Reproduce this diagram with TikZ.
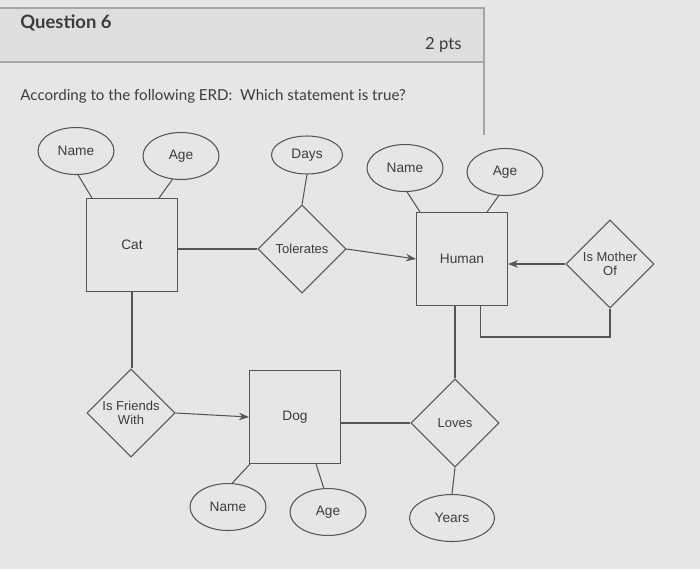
\documentclass[tikz,border=0pt]{standalone}
\usepackage{fontspec}
\setmainfont{Lato}
\newfontfamily\erdfont{Liberation Sans}
\usepackage{tikz}
\usetikzlibrary{shapes, arrows.meta, positioning, calc}
\definecolor{screengray}{RGB}{230, 230, 230}
\definecolor{bandgray}{RGB}{222, 222, 222}
\definecolor{inkgray}{RGB}{85, 85, 85}
\definecolor{textgray}{RGB}{60, 60, 60}

\begin{document}
\begin{tikzpicture}[x=0.02cm, y=-0.02cm, >=Stealth, line width=0.6pt,
    every node/.style={text=textgray},
    entity/.style={draw=inkgray, rectangle, minimum width=1.82cm, minimum height=1.86cm, font=\erdfont\fontsize{7.8}{9}\selectfont},
    attr/.style={draw=inkgray, ellipse, inner sep=0pt, minimum width=1.52cm, minimum height=0.94cm, font=\erdfont\fontsize{7.8}{9}\selectfont},
    rel/.style={draw=inkgray, diamond, inner sep=0pt, minimum width=1.76cm, minimum height=1.76cm, align=center, font=\erdfont\fontsize{7.4}{8}\selectfont},
    link/.style={draw=inkgray}]
    % screen and question header
    \fill[screengray] (0,0) rectangle (700,569);
    \useasboundingbox (0,0) rectangle (700,569);
    \fill[bandgray] (0,8) rectangle (484,62);
    \draw[gray!70] (0,8) -- (484,8) -- (484,135);
    \draw[gray!70] (0,62) -- (484,62);
    \node[anchor=west, font=\bfseries\fontsize{10.5}{13}\selectfont] (qtitle) at (14,23) {Question 6};
    \node[anchor=east, font=\fontsize{9.5}{11}\selectfont] (qpts) at (468,45) {2 pts};
    \node[anchor=west, font=\fontsize{8.6}{10}\selectfont] (qtext) at (14,96) {According to the following ERD:\ \ Which statement is true?};

    % entities
    \node[entity] (cat) at (132,245) {Cat};
    \node[entity] (hum) at (462,259) {Human};
    \node[entity] (dog) at (295,417) {Dog};

    % attributes
    \node[attr] (catname) at (76,151) {Name};
    \node[attr] (catage) at (181,156) {Age};
    \node[attr, minimum width=1.42cm, minimum height=0.76cm] (days) at (307,155) {Days};
    \node[attr] (humname) at (405,168) {Name};
    \node[attr] (humage) at (505,172) {Age};
    \node[attr] (dogname) at (228,507) {Name};
    \node[attr] (dogage) at (328,512) {Age};
    \node[attr, minimum width=1.7cm] (years) at (452,518) {Years};

    % relationships
    \node[rel] (tol) at (302,249) {Tolerates};
    \node[rel] (mom) at (610,264) {Is Mother\\Of};
    \node[rel] (friends) at (131,413) {Is Friends\\With};
    \node[rel] (loves) at (455,423) {Loves};
    \coordinate (loop) at (607,337);

    % attribute links
    \draw[link] (catname.-85) -- ([xshift=0.12cm]cat.north west);
    \draw[link] (catage.-110) -- ([xshift=-0.38cm]cat.north east);
    \draw[link] (days.south) -- (tol.north);
    \draw[link] (humname.-85) -- ([xshift=0.08cm]hum.north west);
    \draw[link] (humage.-105) -- ([xshift=-0.42cm]hum.north east);
    \draw[link] ([xshift=0.02cm]dog.south west) -- (dogname.80);
    \draw[link] ([xshift=-0.5cm]dog.south east) -- (dogage.100);
    \draw[link] (loves.south) -- (years.north);

    % relationship links
    \draw[link] (cat.east |- tol.west) -- (tol.west);
    \draw[link, ->] (tol.east) -- (hum.west);
    \draw[link, ->] (mom.west) -- (hum.east |- mom.west);
    \draw[link] ([xshift=-0.56cm]hum.south east) |- (loop) -| (mom.south);
    \draw[link] (hum.south -| loves.north) -- (loves.north);
    \draw[link] (dog.east |- loves.west) -- (loves.west);
    \draw[link] (cat.south) -- (cat.south |- friends.north);
    \draw[link, ->] (friends.east) -- (dog.west);
\end{tikzpicture}
\end{document}
